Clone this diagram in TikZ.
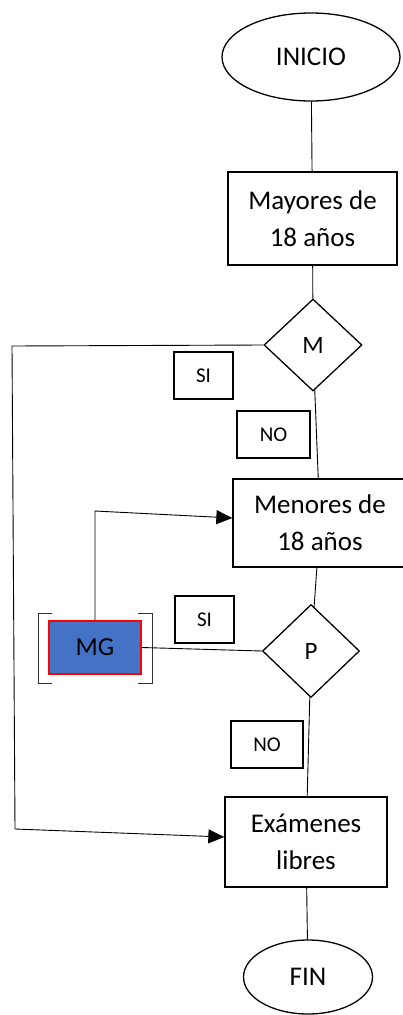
\documentclass[tikz,border=0pt]{standalone}
\usepackage{fontspec}
\setmainfont{Carlito}
\usetikzlibrary{shapes.geometric,arrows.meta}
\definecolor{mgblue}{HTML}{4472C4}
\begin{document}
\begin{tikzpicture}[x=1pt,y=-1pt,
    conn/.style={line width=0.9pt},
    arr/.style={conn,-{Triangle[length=16pt,width=14pt]}},
    terminal/.style={ellipse,draw,line width=1.3pt,inner sep=0pt,font=\fontsize{27}{37}\selectfont},
    stepbox/.style={rectangle,draw,line width=1.3pt,inner sep=0pt,align=center,font=\fontsize{27}{37}\selectfont},
    decision/.style={diamond,draw,line width=1.3pt,inner sep=0pt,font=\fontsize{25}{30}\selectfont},
    answer/.style={rectangle,draw,line width=1.2pt,inner sep=0pt,minimum width=59pt,minimum height=47pt,font=\fontsize{21}{24}\selectfont}]
    \useasboundingbox[fill=white] (0,0) rectangle (402,1015);
    % main column
    \node[terminal,minimum width=178pt,minimum height=88pt] (inicio) at (311,57) {INICIO};
    \node[stepbox,minimum width=169pt,minimum height=93pt] (mayores) at (312.5,218.5) {Mayores de\\18 años};
    \node[decision,minimum width=98pt,minimum height=92pt] (m) at (313,345) {M};
    \node[stepbox,minimum width=174pt,minimum height=88pt] (menores) at (320,523) {Menores de\\18 años};
    \node[decision,minimum width=97pt,minimum height=93pt] (p) at (311,651) {P};
    \node[stepbox,minimum width=162pt,minimum height=90pt] (examenes) at (306,842) {Exámenes\\libres};
    \node[terminal,minimum width=129pt,minimum height=74pt] (fin) at (308,977) {FIN};
    % labels
    \node[answer] (si1) at (203.5,375.5) {SI};
    \node[answer,minimum width=73pt] (no1) at (273.5,434.5) {NO};
    \node[answer] (si2) at (204.5,619.5) {SI};
    \node[answer,minimum width=72pt] (no2) at (267,744.5) {NO};
    % MG
    \node[rectangle,draw=red,fill=mgblue,line width=1.6pt,minimum width=92pt,minimum height=53pt,
        font=\fontsize{26}{30}\selectfont] (mg) at (95,647.5) {MG};
    \draw[line width=1pt,black!80] (52,613) -- (38,613) -- (38,683) -- (52,683);
    \draw[line width=1pt,black!80] (138,613) -- (152,613) -- (152,683) -- (138,683);
    % connectors
    \draw[conn] (inicio) -- (mayores);
    \draw[conn] (mayores) -- (m);
    \draw[conn] (m) -- (menores);
    \draw[conn] (menores) -- (p);
    \draw[conn] (p) -- (examenes);
    \draw[conn] (examenes) -- (fin);
    \draw[conn] (mg.east) -- (p.west);
    \coordinate (mgup) at (95,511);
    \coordinate (mgin) at (menores.west |- 0,518);
    \draw[arr] (mg.north) -- (mgup) -- (mgin);
    \coordinate (looptop) at (12,346);
    \coordinate (loopbot) at (15,829);
    \coordinate (loopin) at (examenes.west |- 0,837);
    \draw[conn] (m.west) -- (looptop) -- (loopbot);
    \draw[arr] (loopbot) -- (loopin);
\end{tikzpicture}
\end{document}
